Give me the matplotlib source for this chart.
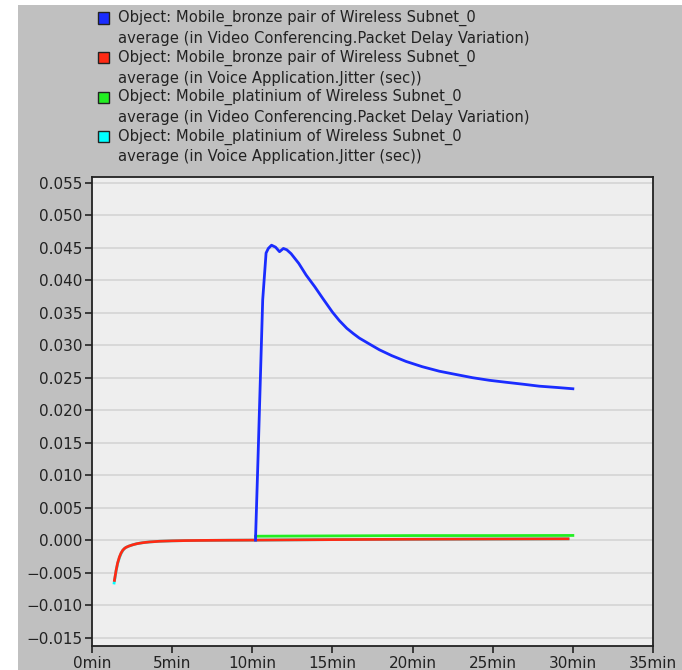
import matplotlib.pyplot as plt
from matplotlib.patches import Rectangle

plt.rcParams['font.family'] = ['DejaVu Sans']

# Mobile_bronze pair: Video Conferencing Packet Delay Variation (blue)
t_blue = [10.2, 10.35, 10.55, 10.65, 10.86, 11.0, 11.2, 11.45, 11.7, 11.94, 12.15, 12.42,
          12.9, 13.36, 13.9, 14.4, 15.0, 15.43, 15.9, 16.3, 16.68, 17.3, 17.93, 18.7, 19.6,
          20.6, 21.67, 22.7, 23.75, 24.8, 25.83, 26.9, 27.9, 29.0, 30.0]
v_blue = [0.0, 0.012, 0.0287, 0.037, 0.0442, 0.0449, 0.0454, 0.0451, 0.0444, 0.0449, 0.0447, 0.0441,
          0.0426, 0.0408, 0.0390, 0.0372, 0.0351, 0.0338, 0.0326, 0.0318, 0.0311, 0.0302, 0.0293,
          0.0284, 0.0275, 0.0267, 0.0260, 0.0255, 0.0250, 0.0246, 0.0243, 0.0240, 0.0237, 0.0235, 0.0233]

# Mobile_bronze pair: Voice Application Jitter (red)
t_red = [1.40, 1.50, 1.60, 1.71, 1.81, 1.92, 2.02, 2.12, 2.3, 2.54, 2.8, 3.16, 3.6, 4.2, 5.0,
         5.8, 6.7, 8.5, 10.2, 15.0, 20.0, 25.0, 29.7]
v_red = [-0.0062, -0.0047, -0.0035, -0.0026, -0.0020, -0.00155, -0.0013, -0.00112, -0.00092,
         -0.00072, -0.00055, -0.0004, -0.00028, -0.00018, -0.00011, -0.00007, -0.00005, -0.00002,
         0.0, 0.00008, 0.00013, 0.00017, 0.0002]

# Mobile_platinium: Video Conferencing Packet Delay Variation (green)
t_green = [10.2, 15.0, 20.0, 25.0, 30.0]
v_green = [0.0006, 0.00065, 0.0007, 0.0007, 0.00072]

# Mobile_platinium: Voice Application Jitter (cyan)
t_cyan = [1.38, 1.50, 1.60, 1.71, 1.81, 1.92, 2.02, 2.12, 2.3, 2.54, 2.8, 3.16, 3.6, 4.2, 5.0,
          5.8, 6.7, 8.5, 10.2, 15.0, 20.0, 25.0, 29.7]
v_cyan = [-0.0066, -0.0048, -0.0036, -0.0027, -0.0021, -0.0016, -0.0013, -0.00112, -0.00092,
          -0.00072, -0.00055, -0.0004, -0.00028, -0.00018, -0.00011, -0.00007, -0.00005, -0.00002,
          0.0, 0.00008, 0.00013, 0.00017, 0.0002]

labels = [
    'Object: Mobile_bronze pair of Wireless Subnet_0\naverage (in Video Conferencing.Packet Delay Variation)',
    'Object: Mobile_bronze pair of Wireless Subnet_0\naverage (in Voice Application.Jitter (sec))',
    'Object: Mobile_platinium of Wireless Subnet_0\naverage (in Video Conferencing.Packet Delay Variation)',
    'Object: Mobile_platinium of Wireless Subnet_0\naverage (in Voice Application.Jitter (sec))',
]
colors = ['#1a2cff', '#ff2a14', '#22ee22', '#00ffff']

x_ticks = [0, 5, 10, 15, 20, 25, 30, 35]
y_ticks = [-0.015, -0.010, -0.005, 0.000, 0.005, 0.010, 0.015, 0.020, 0.025,
           0.030, 0.035, 0.040, 0.045, 0.050, 0.055]

fig = plt.figure(figsize=(6.82, 6.70), dpi=100)
fig.patch.set_facecolor('white')
# grey panel behind everything
fig.patches.append(Rectangle((18 / 682, 0), 1, 1 - 5 / 670, transform=fig.transFigure,
                             facecolor='#c0c0c0', edgecolor='none', zorder=-10))

ax = fig.add_axes([92 / 682, 1 - 646 / 670, (653 - 92) / 682, (646 - 177) / 670])
ax.set_facecolor('#eeeeee')

ax.plot(t_cyan, v_cyan, color=colors[3], lw=2.0, zorder=3)
ax.plot(t_green, v_green, color=colors[2], lw=2.0, zorder=3)
ax.plot(t_red, v_red, color=colors[1], lw=2.0, zorder=4)
ax.plot(t_blue, v_blue, color=colors[0], lw=2.0, zorder=5)

ax.set_xlim(0, 35)
ax.set_ylim(-0.0163, 0.0559)
ax.set_xticks(x_ticks)
ax.set_xticklabels([f'{x}min' for x in x_ticks])
ax.set_yticks(y_ticks)
ax.set_yticklabels([f'{y:.3f}'.replace('-', '\u2212') for y in y_ticks])
ax.tick_params(direction='out', length=5, width=1.2, colors='#222222', labelsize=11, pad=2)
ax.yaxis.grid(True, color='#d4d4d4', lw=1.2)
ax.set_axisbelow(True)
for s in ax.spines.values():
    s.set_color('#222222')
    s.set_linewidth(1.3)

# legend drawn by hand, two lines per entry
for i, (lab, c) in enumerate(zip(labels, colors)):
    y0 = 18 + i * 39.5
    fig.patches.append(Rectangle((98 / 682, 1 - (y0 + 5.5) / 670), 11 / 682, 11 / 670,
                                 transform=fig.transFigure, facecolor=c,
                                 edgecolor='#222222', lw=1.0, zorder=2))
    for j, line in enumerate(lab.split('\n')):
        fig.text(118 / 682, 1 - (y0 + j * 20.5) / 670, line, fontsize=10.6,
                 va='center', ha='left', color='#222222')

fig.savefig('out.png', dpi=100)
